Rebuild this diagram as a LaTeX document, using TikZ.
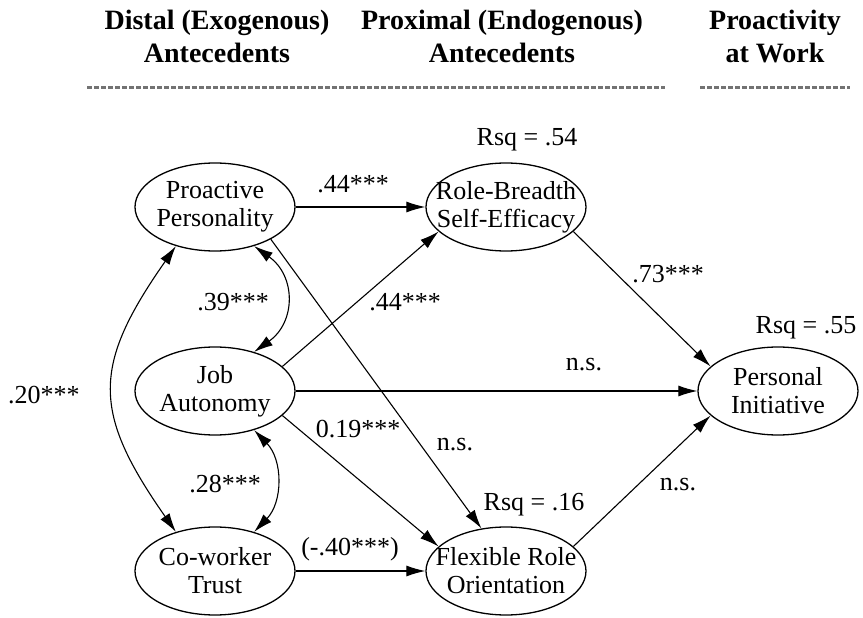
\documentclass[tikz,border=0pt]{standalone}
\usepackage{fontspec}
\setmainfont{Liberation Serif}
\usetikzlibrary{arrows.meta,shapes.geometric}

\begin{document}
\begin{tikzpicture}[x=1pt,y=-1pt,
  latent/.style={ellipse, draw, line width=1.3pt, minimum width=160pt,
    minimum height=88pt, inner sep=0pt},
  lbl/.style={align=center, inner sep=0pt, font=\fontsize{26}{28}\selectfont},
  tip/.tip={Latex[length=19pt,width=11pt]},
  regress/.style={line width=1.1pt, -tip},
  covar/.style={line width=1.1pt, tip-tip},
  coef/.style={anchor=base, inner sep=0pt, font=\fontsize{26}{28}\selectfont},
  head/.style={anchor=base, align=center, inner sep=0pt,
    font=\bfseries\fontsize{28}{33}\selectfont},
  rule/.style={draw=black!55, line width=3pt, dash pattern=on 5pt off 2pt}
]
\useasboundingbox (0,0) rectangle (863,618);

% column headings (anchored on the baseline of the second line)
\node[head] (h1) at (217,63) {Distal (Exogenous)\\Antecedents};
\node[head] (h2) at (502,63) {Proximal (Endogenous)\\Antecedents};
\node[head] (h3) at (775,63) {Proactivity\\at Work};
\draw[rule] (87,88) -- (665,88);
\draw[rule] (700,88) -- (850,88);

% latent variables
\node[latent, label={[lbl]center:Proactive\\Personality}] (pp) at (215,207) {};
\node[latent, label={[lbl]center:Job\\Autonomy}] (ja) at (215,391) {};
\node[latent, label={[lbl]center:Co-worker\\Trust}] (ct) at (215,571) {};
\node[latent, label={[lbl]center:Role-Breadth\\Self-Efficacy}] (rb) at (506,207) {};
\node[latent, label={[lbl]center:Flexible Role\\Orientation}] (fr) at (506,571) {};
\node[latent, label={[lbl]center:Personal\\Initiative}] (pi) at (778,391) {};

% explained variance
\node[coef] (r1) at (527,146) {Rsq = .54};
\node[coef] (r2) at (806,333) {Rsq = .55};
\node[coef] (r3) at (534,510) {Rsq = .16};

% structural paths
\draw[regress] (pp) -- (rb);
\draw[regress] (ja.20) -- (rb.-160);
\draw[regress] (pp.-30) -- (fr.120);
\draw[regress] (ja) -- (pi);
\draw[regress] (ja.-20) -- (fr.160);
\draw[regress] (ct) -- (fr);
\draw[regress] (rb.-20) -- (pi.160);
\draw[regress] (fr.20) -- (pi.-160);

% correlations among the distal antecedents
\draw[covar] (pp.-45) .. controls +(42,30) and +(42,-30) .. (ja.45);
\draw[covar] (ja.-45) .. controls +(29,30) and +(29,-30) .. (ct.45);
\draw[covar] (pp.-135) .. controls +(-84,120) and +(-84,-120) .. (ct.135);

% coefficients
\node[coef] (c1) at (353,192) {.44***};
\node[coef] (c2) at (233,310) {.39***};
\node[coef] (c3) at (405,310) {.44***};
\node[coef] (c4) at (44,403) {.20***};
\node[coef] (c5) at (225,492) {.28***};
\node[coef] (c6) at (358,437) {0.19***};
\node[coef] (c7) at (350,555) {(-.40***)};
\node[coef] (c8) at (455,450) {n.s.};
\node[coef] (c9) at (584,370) {n.s.};
\node[coef] (c10) at (668,282) {.73***};
\node[coef] (c11) at (678,490) {n.s.};
\end{tikzpicture}
\end{document}
